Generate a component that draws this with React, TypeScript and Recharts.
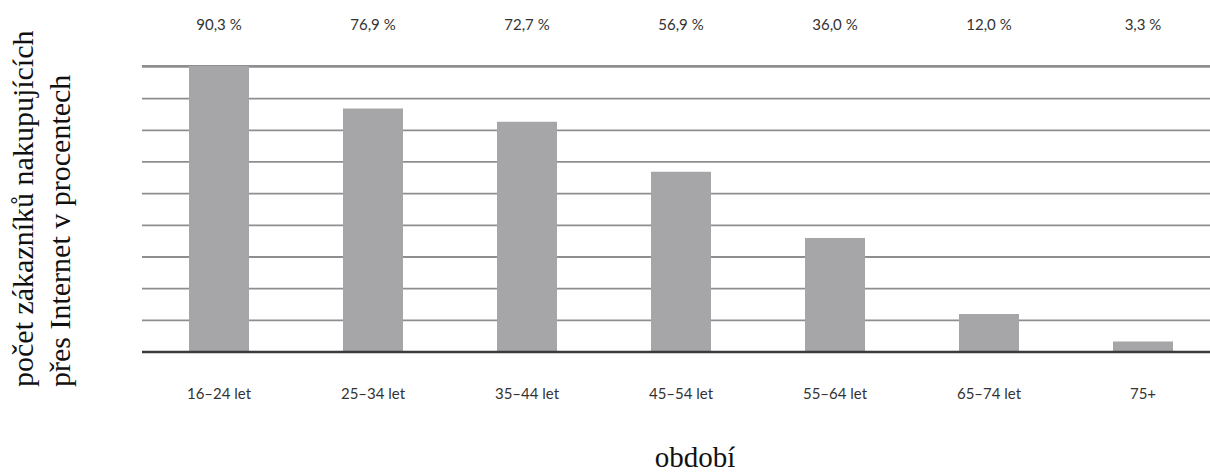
import { BarChart, Bar, XAxis, YAxis, CartesianGrid } from 'recharts';

const ageGroups = ['16–24 let', '25–34 let', '35–44 let', '45–54 let', '55–64 let', '65–74 let', '75+'];
const shareValues = [90.3, 76.9, 72.7, 56.9, 36.0, 12.0, 3.3];
const shareLabels = ['90,3 %', '76,9 %', '72,7 %', '56,9 %', '36,0 %', '12,0 %', '3,3 %'];
const yTicks = [0, 10, 20, 30, 40, 50, 60, 70, 80, 90];

const data = ageGroups.map((age, i) => ({
  age,
  value: shareValues[i],
  label: shareLabels[i],
}));

const serif = "'Liberation Serif', 'Times New Roman', serif";
const sans = "Lato, 'Liberation Sans', sans-serif";

// two-line rotated title on the left
const YTitle = () => (
  <text transform="translate(33, 387) rotate(-90)" fontFamily={serif} fontSize={30} fill="#111">
    <tspan x={0} y={0}>počet zákazníků nakupujících</tspan>
    <tspan x={0} y={37}>přes Internet v procentech</tspan>
  </text>
);

export default function App() {
  return (
    <div style={{ position: 'absolute', left: 0, top: 0, width: 1210, height: 472, overflow: 'hidden', background: '#fff' }}>
      <BarChart width={1222} height={472} data={data} margin={{ top: 0, right: 2, bottom: 0, left: 0 }}>
        <CartesianGrid vertical={false} stroke="#8e8e8e" strokeWidth={1.8} />
        <XAxis
          xAxisId="top"
          orientation="top"
          dataKey="label"
          height={66}
          tickLine={false}
          axisLine={false}
          tickSize={0}
          tickMargin={36}
          tick={{ fontFamily: sans, fontSize: 15, fill: '#333' }}
        />
        <XAxis
          dataKey="age"
          height={120}
          tickLine={false}
          tickSize={0}
          tickMargin={36}
          axisLine={{ stroke: '#3a3a3a', strokeWidth: 2.5 }}
          tick={{ fontFamily: sans, fontSize: 15, fill: '#333' }}
          label={{ value: 'období', position: 'insideBottom', offset: 5, dx: 14, fontFamily: serif, fontSize: 29, fill: '#111' }}
        />
        <YAxis
          width={142}
          domain={[0, 'dataMax']}
          ticks={yTicks}
          tickFormatter={() => ''}
          tickLine={false}
          axisLine={false}
          label={<YTitle />}
        />
        <Bar dataKey="value" fill="#a6a6a8" barSize={60} isAnimationActive={false} />
      </BarChart>
    </div>
  );
}
